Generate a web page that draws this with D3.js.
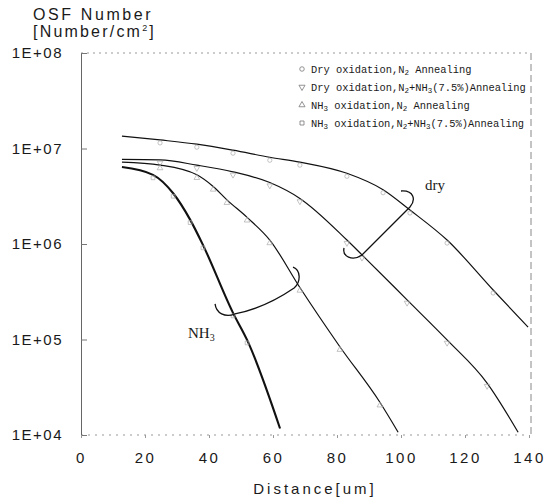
<!DOCTYPE html>
<meta charset="utf-8">
<script src="https://d3js.org/d3.v7.min.js"></script>
<style>
  body { margin: 0; background: #fff; }
  text { font-family: "Liberation Sans", Arial, sans-serif; fill: #1a1a1a; }
</style>
<body>
<div id="chart"></div>
<script>
// values: distance [um], OSF number [/cm2]
var dryN2X = [12.8, 24.7, 36.2, 47.5, 59, 68.4, 83.1, 94.4, 102.8, 114.4, 128.8, 139.7];
var dryN2Y = [1.35e7, 1.23e7, 1.11e7, 9.6e6, 8.1e6, 7.2e6, 5.5e6, 3.7e6, 2.27e6, 1.1e6, 3.3e5, 1.35e5];

var dryNH3X = [12.8, 24.7, 36.2, 47.5, 59, 68.4, 83.1, 87.8, 101.9, 114.4, 126.9, 136.6];
var dryNH3Y = [7.7e6, 7.6e6, 6.7e6, 5.7e6, 4.4e6, 3.0e6, 1.1e6, 7.7e5, 2.6e5, 9.9e4, 3.5e4, 1.07e4];

var nh3N2X = [12.8, 24.7, 36.2, 41.3, 45.6, 51.9, 59, 68.4, 80.9, 93.4, 99.1];
var nh3N2Y = [7.2e6, 6.7e6, 5.3e6, 4.0e6, 2.9e6, 1.9e6, 1.1e6, 3.5e5, 8.4e4, 2.2e4, 1.07e4];

var nh3NH3X = [12.8, 22.5, 28.8, 34.1, 38.1, 47.5, 51.9, 62.2];
var nh3NH3Y = [6.4e6, 5.3e6, 3.4e6, 1.8e6, 9.8e5, 1.9e5, 9.9e4, 1.17e4];

var legendLabels = [
  "Dry oxidation,N_2 Annealing",
  "Dry oxidation,N_2+NH_3(7.5%)Annealing",
  "NH_3 oxidation,N_2 Annealing",
  "NH_3 oxidation,N_2+NH_3(7.5%)Annealing"
];

var xTicks = [0, 20, 40, 60, 80, 100, 120, 140];
var yTicks = [1e4, 1e5, 1e6, 1e7, 1e8];
var yTickLabels = ["1E+04", "1E+05", "1E+06", "1E+07", "1E+08"];

// bracket annotations, in data units
var dryBracketX = [82.2, 81.6, 84.7, 87.8, 102.8, 104.7, 104.1, 100.0];
var dryBracketY = [9.08e5, 7.48e5, 6.49e5, 7.67e5, 2.44e6, 2.89e6, 3.67e6, 3.59e6];
var nh3BracketX = [41.9, 42.2, 45.0, 48.1, 57.5, 66.6, 68.75, 68.75, 66.25];
var nh3BracketY = [2.36e5, 1.89e5, 1.68e5, 1.85e5, 2.14e5, 3.46e5, 4.0e5, 5.35e5, 5.74e5];

var width = 545, height = 497;

var svg = d3.select("#chart")
  .append("svg")
    .attr("width", width)
    .attr("height", height);

var x = d3.scaleLinear().domain([0, 140]).range([81, 529]);
var y = d3.scaleLog().domain([1e4, 1e8]).range([435, 53]);

// frame (scanned look: solid left axis, broken other sides)
svg.append("line")
  .attr("x1", x(0)).attr("x2", x(140)).attr("y1", y(1e8)).attr("y2", y(1e8))
  .attr("stroke", "#999").attr("stroke-dasharray", "2,4");
svg.append("line")
  .attr("x1", x(140) + 2).attr("x2", x(140) + 2).attr("y1", y(1e8)).attr("y2", y(1e4))
  .attr("stroke", "#888").attr("stroke-dasharray", "7,4");
svg.append("line")
  .attr("x1", x(0)).attr("x2", x(140)).attr("y1", y(1e4)).attr("y2", y(1e4))
  .attr("stroke", "#999").attr("stroke-dasharray", "2,5");

// Y axis
var yAxis = svg.append("g")
  .attr("transform", "translate(" + x(0) + ",0)")
  .call(d3.axisLeft(y)
    .tickValues(yTicks)
    .tickFormat(function(d, i) { return yTickLabels[i]; })
    .tickSizeInner(-6)
    .tickSizeOuter(0)
    .tickPadding(18));
yAxis.select(".domain").attr("stroke", "#666");
yAxis.selectAll(".tick line").attr("stroke", "#777");
yAxis.selectAll(".tick text")
  .style("font-size", "15px")
  .style("letter-spacing", "1.5px")
  .attr("fill", "#1a1a1a");

// X axis
var xAxis = svg.append("g")
  .attr("transform", "translate(0," + y(1e4) + ")")
  .call(d3.axisBottom(x)
    .tickValues(xTicks)
    .tickSizeInner(3)
    .tickSizeOuter(0)
    .tickPadding(14));
xAxis.select(".domain").remove();
xAxis.selectAll(".tick line").attr("stroke", "#999");
xAxis.selectAll(".tick text")
  .style("font-size", "15px")
  .style("letter-spacing", "2.5px")
  .attr("fill", "#1a1a1a");

// titles
svg.append("text")
  .attr("x", 33).attr("y", 20)
  .style("font-size", "16px").style("letter-spacing", "2.6px")
  .text("OSF Number");
var unit = svg.append("text")
  .attr("x", 33).attr("y", 37)
  .style("font-size", "16px").style("letter-spacing", "2.2px");
unit.append("tspan").text("[Number/cm");
unit.append("tspan").attr("dy", -6).style("font-size", "9px").text("2");
unit.append("tspan").attr("dy", 6).text("]");

svg.append("text")
  .attr("x", 315).attr("y", 494)
  .attr("text-anchor", "middle")
  .style("font-size", "15px").style("letter-spacing", "3px")
  .text("Distance[um]");

// curves
var series = [
  { xs: dryN2X, ys: dryN2Y, w: 1.2, sym: d3.symbolCircle },
  { xs: dryNH3X, ys: dryNH3Y, w: 1.2, sym: d3.symbolTriangle, rot: 180 },
  { xs: nh3N2X, ys: nh3N2Y, w: 1.2, sym: d3.symbolTriangle, rot: 0 },
  { xs: nh3NH3X, ys: nh3NH3Y, w: 2.1, sym: d3.symbolSquare }
];

var line = d3.line()
  .x(function(d) { return x(d[0]); })
  .y(function(d) { return y(d[1]); })
  .curve(d3.curveMonotoneX);

series.forEach(function(s) {
  var pts = s.xs.map(function(v, i) { return [v, s.ys[i]]; });
  svg.append("path")
    .datum(pts)
    .attr("fill", "none")
    .attr("stroke", "#111")
    .attr("stroke-width", s.w)
    .attr("d", line);
  svg.selectAll(null)
    .data(pts.slice(1, -1))
    .enter().append("path")
      .attr("d", d3.symbol().type(s.sym).size(14))
      .attr("transform", function(d) {
        return "translate(" + x(d[0]) + "," + (y(d[1]) + 3) + ") rotate(" + (s.rot || 0) + ")";
      })
      .attr("fill", "none")
      .attr("stroke", "#aaa")
      .attr("stroke-width", 0.7);
});

// brackets
function bracketPath(xs, ys) {
  var p = xs.map(function(v, i) { return [x(v), y(ys[i])]; });
  var path = d3.path();
  path.moveTo(p[0][0], p[0][1]);
  path.bezierCurveTo(p[1][0], p[1][1], p[2][0], p[2][1], p[3][0], p[3][1]);
  if (p.length === 8) {
    path.lineTo(p[4][0], p[4][1]);
    path.bezierCurveTo(p[5][0], p[5][1], p[6][0], p[6][1], p[7][0], p[7][1]);
  } else {
    path.quadraticCurveTo(p[4][0], p[4][1], p[5][0], p[5][1]);
    path.bezierCurveTo(p[6][0], p[6][1], p[7][0], p[7][1], p[8][0], p[8][1]);
  }
  return path.toString();
}
svg.append("path")
  .attr("d", bracketPath(dryBracketX, dryBracketY))
  .attr("fill", "none").attr("stroke", "#111").attr("stroke-width", 1.3);
svg.append("path")
  .attr("d", bracketPath(nh3BracketX, nh3BracketY))
  .attr("fill", "none").attr("stroke", "#111").attr("stroke-width", 1.3);

svg.append("text")
  .attr("x", 425).attr("y", 190)
  .style("font-family", "'Liberation Serif', 'DejaVu Serif', serif")
  .style("font-size", "15px")
  .text("dry");
var nh3 = svg.append("text")
  .attr("x", 188).attr("y", 338)
  .style("font-family", "'Liberation Serif', 'DejaVu Serif', serif")
  .style("font-size", "15px");
nh3.append("tspan").text("NH");
nh3.append("tspan").attr("dy", 3).style("font-size", "10px").text("3");

// legend
var legendSyms = [
  { sym: d3.symbolCircle, rot: 0 },
  { sym: d3.symbolTriangle, rot: 180 },
  { sym: d3.symbolTriangle, rot: 0 },
  { sym: d3.symbolSquare, rot: 0 }
];
var legend = svg.append("g");
legendLabels.forEach(function(lbl, i) {
  var yy = 73 + i * 18;
  legend.append("path")
    .attr("d", d3.symbol().type(legendSyms[i].sym).size(16))
    .attr("transform", "translate(302," + (yy - 4) + ") rotate(" + legendSyms[i].rot + ")")
    .attr("fill", "none").attr("stroke", "#777").attr("stroke-width", 0.8);
  var t = legend.append("text")
    .attr("x", 311).attr("y", yy)
    .style("font-family", "'Liberation Mono', 'DejaVu Sans Mono', monospace")
    .style("font-size", "10.4px")
    .attr("fill", "#444");
  var sub = false;
  lbl.split(/_(\d)/).forEach(function(part, k) {
    if (part === "") return;
    var isSub = k % 2 === 1;
    var ts = t.append("tspan").text(part);
    if (isSub) { ts.attr("dy", 2).style("font-size", "7.5px"); sub = true; }
    else if (sub) { ts.attr("dy", -2); sub = false; }
  });
});
</script>
</body>
